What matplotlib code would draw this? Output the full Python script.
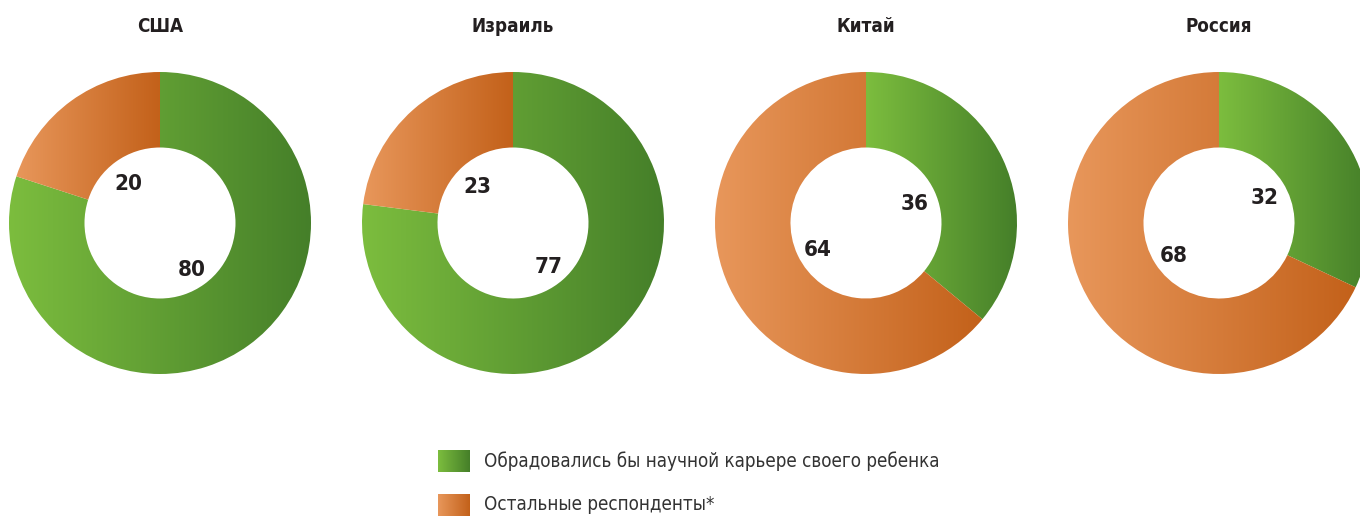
import numpy as np
import matplotlib
matplotlib.use("Agg")
import matplotlib.pyplot as plt
from matplotlib.colors import LinearSegmentedColormap

countries = ["США", "Израиль", "Китай", "Россия"]
happy = [80, 77, 36, 32]
others = [20, 23, 64, 68]
legend_labels = ["Обрадовались бы научной карьере своего ребенка", "Остальные респонденты*"]

green_cmap = LinearSegmentedColormap.from_list("g", ["#7cbd3e", "#457f29"])
orange_cmap = LinearSegmentedColormap.from_list("o", ["#e8975b", "#c3611a"])

plt.rcParams['font.family'] = ['DejaVu Sans']
plt.rcParams['font.stretch'] = 'condensed'

W, H = 1360, 516
fig = plt.figure(figsize=(W / 100, H / 100), dpi=100)
ax = fig.add_axes([0, 0, 1, 1])

centers_x = [160, 513, 866, 1219]
cy = H - 223
R = 151
grad = np.linspace(0, 1, 256).reshape(1, -1)

def gradient_fill(patch, cmap):
    ext = patch.get_path().get_extents(patch.get_patch_transform())
    im = ax.imshow(grad, cmap=cmap, extent=[ext.x0, ext.x1, ext.y0, ext.y1],
                   aspect='auto', zorder=2, interpolation='bicubic')
    im.set_clip_path(patch)
    patch.set_facecolor('none')

for cx, name, h, o in zip(centers_x, countries, happy, others):
    wedges, texts = ax.pie([h, o], center=(cx, cy), radius=R, startangle=90,
                           counterclock=False, labels=[str(h), str(o)],
                           labeldistance=0.355,
                           wedgeprops=dict(width=R * 0.5, edgecolor='none'),
                           textprops=dict(fontsize=16, fontweight='bold', color='#231f20',
                                          ha='center', va='center', fontstretch='condensed'),
                           frame=True)
    for w, cm in zip(wedges, [green_cmap, orange_cmap]):
        gradient_fill(w, cm)
    for t in texts:
        t.set_zorder(5)
        x, y = t.get_position()
        t.set_position((x, y - 4))
    ax.text(cx, H - 27, name, ha='center', va='center', fontsize=13.5,
            fontweight='bold', color='#231f20', fontstretch='condensed')

# legend
for i, (lab, cm) in enumerate(zip(legend_labels, [green_cmap, orange_cmap])):
    y0 = H - 472 - i * 44
    ax.imshow(grad, cmap=cm, extent=[438, 470, y0, y0 + 22], aspect='auto', zorder=2)
    ax.text(484, y0 + 11, lab, ha='left', va='center', fontsize=13.5, color='#333333',
            fontstretch='condensed')

ax.set_xlim(0, W)
ax.set_ylim(0, H)
ax.set_aspect('equal')
ax.axis('off')
fig.savefig("out.png", dpi=100)
